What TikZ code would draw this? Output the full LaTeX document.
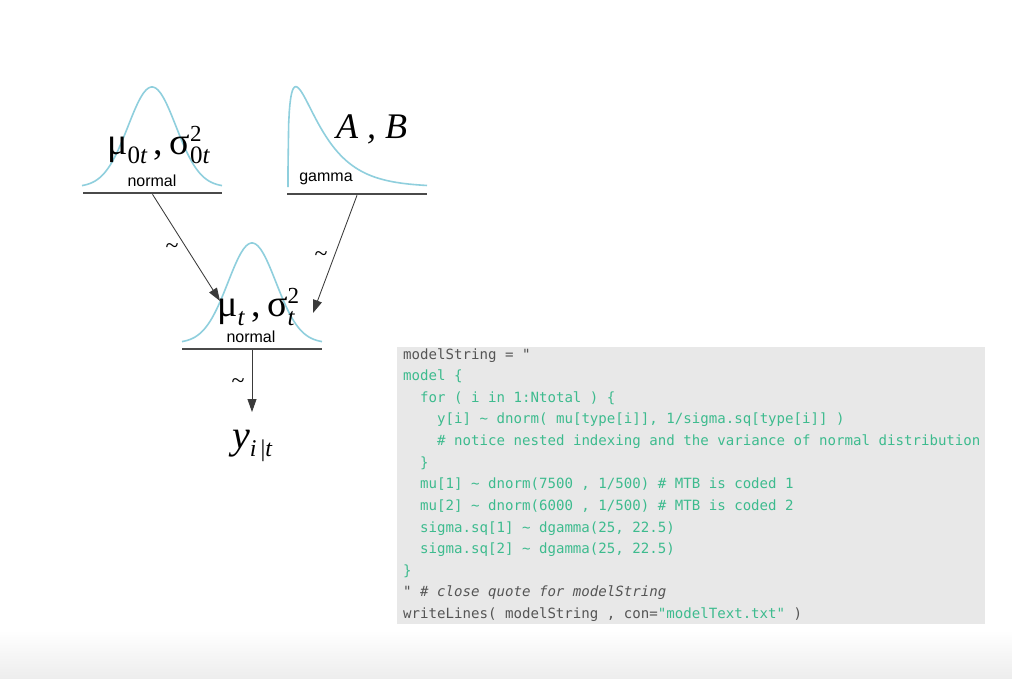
\documentclass[tikz,border=0pt]{standalone}
\usepackage{fontspec}
\setmainfont{Liberation Serif}
\newfontfamily\labelfont{Liberation Sans}
\newfontfamily\codefont{DejaVu Sans Mono}
\usetikzlibrary{arrows.meta}

\definecolor{curveblue}{HTML}{8FCFDD}
\definecolor{bargray}{HTML}{4A4A4A}
\definecolor{arrowgray}{HTML}{3A3A3A}
\definecolor{codebg}{HTML}{E8E8E8}
\definecolor{codegreen}{HTML}{3DBB8E}
\definecolor{codegray}{HTML}{555555}

\newcommand{\SubOnly}[1]{\raisebox{-9pt}{\fontsize{25}{25}\selectfont #1}}
\newcommand{\SupSub}[2]{\rlap{\raisebox{13pt}{\fontsize{23}{23}\selectfont #1}}\raisebox{-9pt}{\fontsize{25}{25}\selectfont #2}}

\tikzset{
  density/.style={curveblue, line width=1.6pt},
  bar/.style={fill=bargray, inner sep=0pt, minimum height=2.2pt},
  param/.style={anchor=base west, inner sep=0pt, font=\fontsize{38}{38}\selectfont},
  distname/.style={inner sep=1pt, font=\labelfont\fontsize{16}{16}\selectfont},
  tilde/.style={font=\fontsize{24}{24}\selectfont},
  arrow/.style={->, arrowgray, line width=0.85pt},
  code/.style={anchor=base west, inner sep=0pt, font=\codefont\fontsize{14.1}{14.1}\selectfont, text=codegreen},
  >={Triangle[length=13pt,width=9pt]},
}

\begin{document}
\begin{tikzpicture}[x=1pt,y=-1pt]

  \useasboundingbox (0,0) rectangle (1012,678);
  \fill[white] (0,0) rectangle (1012,678);
  \shade[top color=white, bottom color=black!7] (0,630) rectangle (1012,678);

  % densities
  \draw[density] plot[domain=82:222,samples=90] (\x,{187-100*exp(-0.5*((\x-152)/24)*((\x-152)/24))});
  \draw[density] (288,187) -- plot[domain=0.01:139,samples=220] ({288+\x},{187-100*pow(\x/9,0.3)*exp(-(\x-9)/26)});
  \draw[density] plot[domain=182:322,samples=90] (\x,{343-100*exp(-0.5*((\x-252)/24)*((\x-252)/24))});

  \node[bar, minimum width=139pt] (barA) at (152.5,193) {};
  \node[bar, minimum width=140pt] (barB) at (357,194) {};
  \node[bar, minimum width=140pt] (barC) at (252,349) {};

  \node[param] (muzero) at (107,154) {μ\SubOnly{0\textit{t}}\,,\,σ\SupSub{2}{0\textit{t}}};
  \node[param, font=\fontsize{36}{36}\selectfont\itshape] (AB) at (336,138) {A , B};
  \node[param] (mut) at (217,316) {μ\SubOnly{\textit{t}}\,,\,σ\SupSub{2}{\textit{t}}};
  \node[param, font=\fontsize{40}{40}\selectfont] (yit) at (232,448) {\textit{y}\raisebox{-8pt}{\fontsize{24}{24}\selectfont\textit{i}\,|\textit{t}}};

  \node[distname] (normA) at (152,181) {normal};
  \node[distname] (gam) at (326,179) {gamma};
  \node[distname] (normC) at (251,337) {normal};

  \coordinate (tipA) at (220,301);
  \coordinate (tipB) at (313,313);
  \coordinate (tipC) at (252,412);

  \draw[arrow] (barA.south) -- (tipA);
  \draw[arrow] (barB.south) -- (tipB);
  \draw[arrow] (barC.south) -- (tipC);

  \node[tilde] (tilA) at (172,249) {\textasciitilde};
  \node[tilde] (tilB) at (321,257) {\textasciitilde};
  \node[tilde] (tilC) at (238,384) {\textasciitilde};

  % code panel
  \fill[codebg] (397,347) rectangle (985,624);

  \node[code, text=codegray] (l0) at (403,359) {modelString = "};
  \node[code] (l1) at (403,380.6) {model \{};
  \node[code] (l2) at (420,402.3) {for ( i in 1:Ntotal ) \{};
  \node[code] (l3) at (437,423.9) {y[i] \textasciitilde{} dnorm( mu[type[i]], 1/sigma.sq[type[i]] )};
  \node[code] (l4) at (437,445.5) {\# notice nested indexing and the variance of normal distribution};
  \node[code] (l5) at (420,467.2) {\}};
  \node[code] (l6) at (420,488.8) {mu[1] \textasciitilde{} dnorm(7500 , 1/500) \# MTB is coded 1};
  \node[code] (l7) at (420,510.4) {mu[2] \textasciitilde{} dnorm(6000 , 1/500) \# MTB is coded 2};
  \node[code] (l8) at (420,532.0) {sigma.sq[1] \textasciitilde{} dgamma(25, 22.5)};
  \node[code] (l9) at (420,553.7) {sigma.sq[2] \textasciitilde{} dgamma(25, 22.5)};
  \node[code] (l10) at (403,575.3) {\}};
  \node[code, text=codegray] (l11) at (403,596.9) {" \textit{\# close quote for modelString}};
  \node[code, text=codegray] (l12) at (403,618.6) {writeLines( modelString , con=\textcolor{codegreen}{"modelText.txt"} )};

\end{tikzpicture}
\end{document}
